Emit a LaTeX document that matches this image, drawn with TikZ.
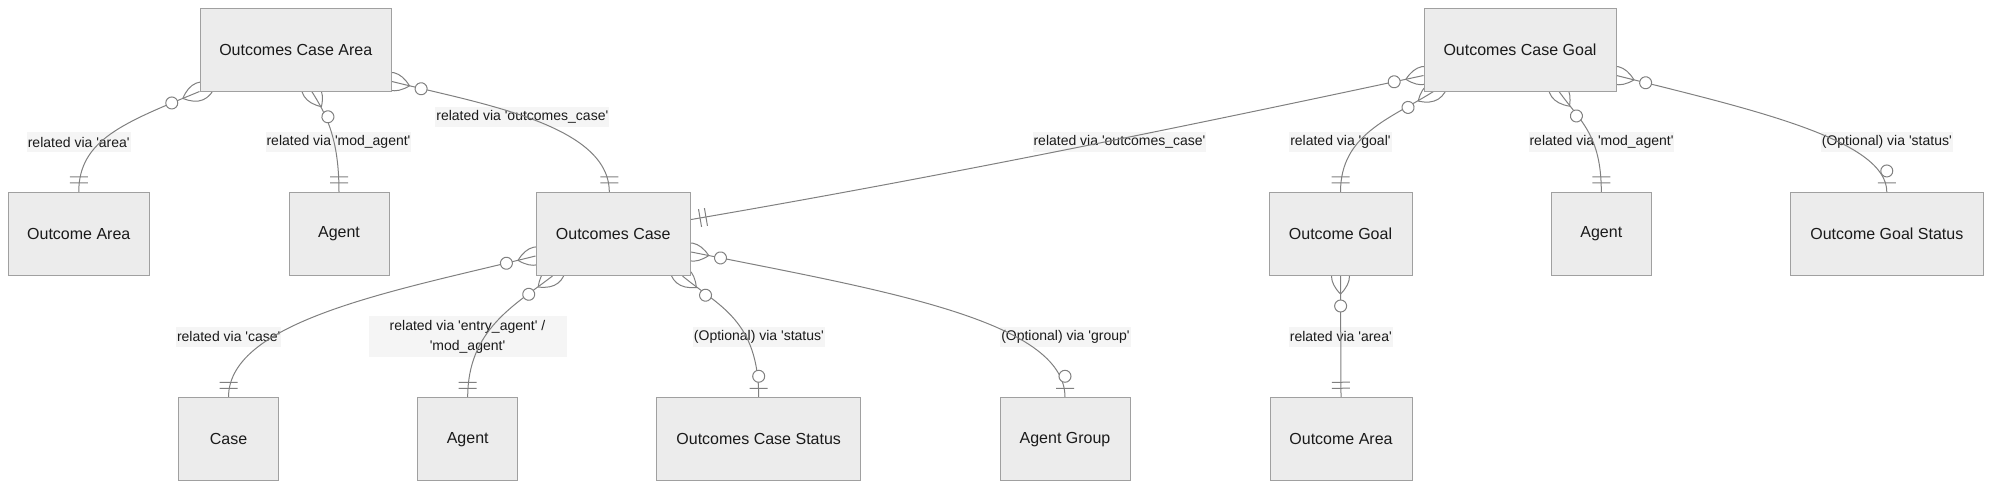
\documentclass[tikz,border=0pt]{standalone}
\usepackage{fontspec}
\setmainfont{Liberation Sans}[Ligatures=TeXOff]
\usetikzlibrary{decorations.markings}
\pgfdeclarelayer{background}
\pgfdeclarelayer{foreground}
\pgfsetlayers{background,main,foreground}
\definecolor{entfill}{HTML}{ECECEC}
\definecolor{entdraw}{HTML}{A0A0A0}
\definecolor{reldraw}{HTML}{808080}
\definecolor{lblfill}{HTML}{F5F5F5}
\definecolor{txtcol}{HTML}{1A1A1A}
\tikzstyle{entity}=[draw=entdraw, fill=entfill, line width=1pt,
  minimum height=83pt, inner sep=0pt, text=txtcol,
  font=\fontsize{16}{19}\selectfont]
\tikzstyle{reltext}=[fill=lblfill, inner xsep=1pt, inner ysep=0pt,
  minimum height=20pt, text=txtcol, font=\fontsize{14}{20}\selectfont]
\tikzstyle{relation}=[draw=reldraw, line width=1pt]
% zero or more, at the start of a relation
\tikzstyle{manystart}=[postaction={decorate, decoration={markings,
  mark=at position 0 with {
    \draw[reldraw, line width=1pt] (-18,0) .. controls (-6,12) and (6,12) .. (18,0)
      .. controls (6,-12) and (-6,-12) .. cycle;
    \draw[reldraw, line width=1pt, fill=white] (30,0) circle (6pt);}}}]
% exactly one, at the end of a relation
\tikzstyle{oneend}=[postaction={decorate, decoration={markings,
  mark=at position -0.05pt with {
    \draw[reldraw, line width=1pt] (-9,-9) -- (-9,9) (-15,-9) -- (-15,9);}}}]
% zero or one, at the end of a relation
\tikzstyle{optend}=[postaction={decorate, decoration={markings,
  mark=at position -0.05pt with {
    \draw[reldraw, line width=1pt] (-9,-9) -- (-9,9);
    \draw[reldraw, line width=1pt, fill=white] (-21,0) circle (6pt);}}}]
\newcommand{\entity}[3]{node (#1) [entity, minimum width=#2pt] {#3}}

\begin{document}
\begin{tikzpicture}[x=1pt,y=-1pt]
  \useasboundingbox (0,0) rectangle (1999,491);

  % entities
  \begin{pgfonlayer}{foreground}
  \path (295.75,49.5) \entity{OCAREA}{191.5}{Outcomes Case Area};
  \path (78.75,234) \entity{OAREAL}{141.5}{Outcome Area};
  \path (339,234) \entity{AGENTA}{100}{Agent};
  \path (613.3,234) \entity{OCASE}{154.6}{Outcomes Case};
  \path (228.5,439.3) \entity{CASE}{100}{Case};
  \path (467.7,439.3) \entity{AGENTB}{100}{Agent};
  \path (758.7,439.3) \entity{OCSTATUS}{204}{Outcomes Case Status};
  \path (1065,439.3) \entity{AGROUP}{130}{Agent Group};
  \path (1520,49.5) \entity{OCGOAL}{192}{Outcomes Case Goal};
  \path (1340.5,234) \entity{OGOAL}{143}{Outcome Goal};
  \path (1601.3,234) \entity{AGENTC}{100}{Agent};
  \path (1886.8,234) \entity{OGSTATUS}{192.4}{Outcome Goal Status};
  \path (1341,439.3) \entity{OAREAR}{142}{Outcome Area};
  \end{pgfonlayer}

  % relation labels
  \begin{pgfonlayer}{background}
  \node (LBAREAL) [reltext] at (78.75,142.3) {related via 'area'};
  \node (LBAGENTA) [reltext] at (338.5,142.3) {related via 'mod\_agent'};
  \node (LBOCASEA) [reltext] at (522.3,117.3) {related via 'outcomes\_case'};
  \node (LBOCASEG) [reltext] at (1119.5,142) {related via 'outcomes\_case'};
  \node (LBCASE) [reltext] at (228.7,336.5) {related via 'case'};
  \node (LBAGENTB) [reltext, align=center, minimum width=198pt, minimum height=41pt]
    at (467.5,336.7) {related via 'entry\_agent' /\\'mod\_agent'};
  \node (LBOCSTATUS) [reltext] at (758.9,336.5) {(Optional) via 'status'};
  \node (LBAGROUP) [reltext] at (1065.4,336.5) {(Optional) via 'group'};
  \node (LBGOAL) [reltext] at (1340.4,141.7) {related via 'goal'};
  \node (LBAGENTC) [reltext] at (1601.5,141.7) {related via 'mod\_agent'};
  \node (LBOGSTATUS) [reltext] at (1886.8,141.7) {(Optional) via 'status'};
  \node (LBAREAR) [reltext] at (1340.8,336.5) {related via 'area'};
  \end{pgfonlayer}

  % Outcomes Case Area relations
  \path [relation, manystart, oneend] (OCAREA.south west)
    .. controls +(-75,31) and +(0,-52.5) .. (OAREAL.north);
  \path [relation, manystart, oneend] ([xshift=16pt]OCAREA.south)
    .. controls +(15,23.5) and +(0,-52.5) .. (AGENTA.north);
  \path [relation, manystart, oneend] ([yshift=10pt]OCAREA.south east)
    .. controls +(88,22) and +(0,-67.5) .. ([xshift=-4pt]OCASE.north);

  % Outcomes Case relations
  \path [relation, manystart, oneend] ([yshift=-22pt]OCASE.west)
    .. controls +(-136.5,34) and +(0,-77.5) .. (CASE.north);
  \path [relation, manystart, oneend] ([xshift=17pt]OCASE.south west)
    .. controls +(-38.3,29.5) and +(0,-67.5) .. (AGENTB.north);
  \path [relation, manystart, optend] ([xshift=-8.6pt]OCASE.south east)
    .. controls +(36,30) and +(0,-77.5) .. (OCSTATUS.north);
  \path [relation, manystart, optend] ([yshift=-18pt]OCASE.east)
    .. controls +(189,38) and +(0,-77.5) .. (AGROUP.north);

  % Outcomes Case Goal relations
  \path [relation, manystart, oneend] ([yshift=16pt]OCGOAL.south west)
    .. controls +(-245,52.5) and +(245,-42) .. ([yshift=14.5pt]OCASE.east);
  \path [relation, manystart, oneend] ([xshift=10pt]OCGOAL.south west)
    .. controls +(-44,27.5) and +(0,-57.5) .. (OGOAL.north);
  \path [relation, manystart, oneend] ([xshift=39pt]OCGOAL.south)
    .. controls +(21,29.5) and +(0,-57.5) .. (AGENTC.north);
  \path [relation, manystart, optend] ([yshift=16pt]OCGOAL.south east)
    .. controls +(134,33.5) and +(0,-52.5) .. (OGSTATUS.north);
  \path [relation, manystart, oneend] (OGOAL.south) -- (OAREAR.north);
\end{tikzpicture}
\end{document}
